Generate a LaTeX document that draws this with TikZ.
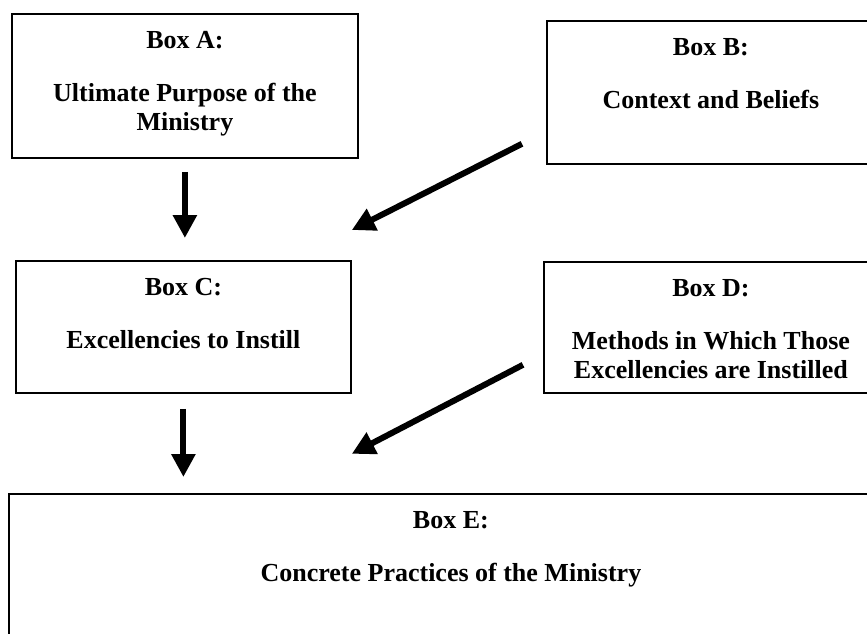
\documentclass[tikz,border=0pt]{standalone}
\usepackage{fontspec}
\setmainfont{Liberation Serif}
\usepackage{tikz}
\usetikzlibrary{arrows.meta}
\usetikzlibrary{positioning}

\tikzset{
  box/.style={draw, line width=1.8pt, anchor=north west, inner sep=0pt},
  boxtext/.style={anchor=north, inner sep=0pt, align=center,
    font=\fontsize{26}{29}\selectfont\bfseries},
  bigarrow/.style={line width=6pt, -{Triangle[length=23pt,width=23pt]}}
}

\begin{document}
\begin{tikzpicture}[x=1pt,y=-1pt]
\useasboundingbox (0,0) rectangle (867,634);
\clip (0,0) rectangle (867,634);

\node[box, minimum width=346pt, minimum height=144pt] (boxA) at (11,13) {};
\node[box, minimum width=328pt, minimum height=143pt] (boxB) at (546,20) {};
\node[box, minimum width=335pt, minimum height=132pt] (boxC) at (15,260) {};
\node[box, minimum width=334pt, minimum height=131pt] (boxD) at (543,261) {};
\node[box, minimum width=884pt, minimum height=200pt] (boxE) at (8,493) {};

\node[boxtext] (txtA) at ([yshift=-18.5pt]boxA.north) {Box A:\\[24pt]Ultimate Purpose of the\\Ministry};
\node[boxtext] (txtB) at ([yshift=-18.5pt]boxB.north) {Box B:\\[24pt]Context and Beliefs};
\node[boxtext] (txtC) at ([yshift=-18.5pt]boxC.north) {Box C:\\[24pt]Excellencies to Instill};
\node[boxtext] (txtD) at ([yshift=-18.5pt]boxD.north) {Box D:\\[24pt]Methods in Which Those\\Excellencies are Instilled};
\node[boxtext] (txtE) at ([yshift=-18.5pt]boxE.north) {Box E:\\[24pt]Concrete Practices of the Ministry};

\coordinate (tailB) at ([xshift=-24pt,yshift=21pt]boxB.south west);
\coordinate (tipB) at ([yshift=30pt]boxC.north east);
\coordinate (tailD) at ([xshift=-20pt,yshift=29pt]boxD.south west);
\coordinate (tipD) at ([yshift=-60pt]boxC.south east);

\draw[bigarrow, shorten <=13pt, shorten >=22pt] (boxA.south) -- (boxA.south |- boxC.north);
\draw[bigarrow] (tailB) -- (tipB);
\draw[bigarrow, shorten <=15pt, shorten >=16pt] (boxC.south) -- (boxC.south |- boxE.north);
\draw[bigarrow] (tailD) -- (tipD);
\end{tikzpicture}
\end{document}
